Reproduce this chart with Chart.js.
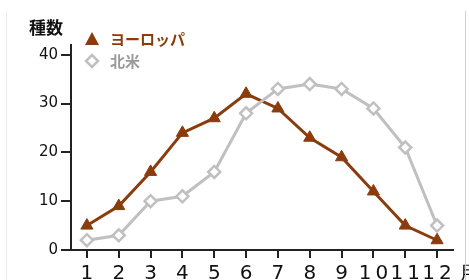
<!DOCTYPE html>
<html>
<head>
<meta charset="utf-8">
<script src="https://cdn.jsdelivr.net/npm/chart.js@4"></script>
<style>
html, body { margin: 0; padding: 0; background: #fff; overflow: hidden; }
#wrap { position: relative; width: 469px; height: 280px; }
#wrap canvas { position: absolute; left: 0; top: 0; }
#frame { position: absolute; left: 6px; top: 11px; width: 458px; height: 269px;
  border-left: 1px solid #ececec; border-right: 1px solid #d2d2d2; pointer-events: none; }
</style>
</head>
<body>
<div id="wrap">
  <canvas id="chart" width="469" height="280"></canvas>
  <div id="frame"></div>
</div>
<script>
// Data
const months = ['1', '2', '3', '4', '5', '6', '7', '8', '9', '10', '11', '12'];
const europe = [5, 9, 16, 24, 27, 32, 29, 23, 19, 12, 5, 2];
const northAmerica = [2, 3, 10, 11, 16, 28, 33, 34, 33, 29, 21, 5];
const yTicks = [0, 10, 20, 30, 40];

const brown = '#8a3c0c';
const grey = '#c0c0c0';
const jpFont = '"Noto Sans CJK JP", sans-serif';
const tickFont = 'DejaVu Sans';

// Month labels in the reference are widely spaced ("1 0", "1 1" ...)
const spacedMonths = {
    id: 'spacedMonths',
    beforeDraw(chart) {
        const sx = chart.scales.x;
        if (sx && !sx._spaced) {
            const orig = sx.drawLabels;
            sx.drawLabels = function(area) {
                this.ctx.save();
                this.ctx.letterSpacing = '4px';
                this.ctx.translate(2, 0);
                orig.call(this, area);
                this.ctx.restore();
            };
            sx._spaced = true;
        }
    }
};

// Title, inline legend and the month unit
const annotations = {
    id: 'annotations',
    afterDraw(chart) {
        const ctx = chart.ctx;
        ctx.save();
        ctx.textBaseline = 'middle';

        ctx.fillStyle = '#111';
        ctx.font = 'bold 17px ' + jpFont;
        ctx.textAlign = 'center';
        ctx.fillText('種数', 46, 28);

        // legend: triangle + ヨーロッパ
        ctx.textAlign = 'left';
        ctx.fillStyle = brown;
        ctx.beginPath();
        ctx.moveTo(92, 32);
        ctx.lineTo(99, 45);
        ctx.lineTo(85, 45);
        ctx.closePath();
        ctx.fill();
        ctx.font = 'bold 15px ' + jpFont;
        ctx.fillText('ヨーロッパ', 110, 39);

        // legend: diamond + 北米
        ctx.strokeStyle = grey;
        ctx.lineWidth = 2.5;
        ctx.fillStyle = '#fff';
        ctx.beginPath();
        ctx.moveTo(92, 55);
        ctx.lineTo(98, 61);
        ctx.lineTo(92, 67);
        ctx.lineTo(86, 61);
        ctx.closePath();
        ctx.fill();
        ctx.stroke();
        ctx.fillStyle = '#9a9a9a';
        ctx.font = 'bold 15px ' + jpFont;
        ctx.fillText('北米', 110, 61);

        // unit after the last month
        ctx.fillStyle = '#111';
        ctx.font = '20px ' + tickFont;
        ctx.fillText('月', 458, 275);
        ctx.restore();
    }
};

const ctx = document.getElementById('chart').getContext('2d');
const chart = new Chart(ctx, {
    type: 'line',
    data: {
        labels: months,
        datasets: [{
            label: 'ヨーロッパ',
            data: europe,
            borderColor: brown,
            backgroundColor: brown,
            borderWidth: 3,
            pointStyle: 'triangle',
            pointRadius: 7,
            pointBorderWidth: 1,
            order: 1
        }, {
            label: '北米',
            data: northAmerica,
            borderColor: grey,
            backgroundColor: '#fff',
            borderWidth: 3,
            pointStyle: 'rectRot',
            pointRadius: 6,
            pointBorderWidth: 2.5,
            order: 0
        }]
    },
    options: {
        responsive: false,
        animation: false,
        layout: { padding: { top: 45, right: 16, left: 0, bottom: 0 } },
        plugins: {
            legend: { display: false },
            tooltip: { enabled: false }
        },
        elements: { line: { tension: 0 } },
        scales: {
            x: {
                offset: true,
                grid: {
                    drawOnChartArea: false,
                    offset: false,
                    tickLength: 8,
                    color: '#222',
                    lineWidth: 2
                },
                border: { color: '#222', width: 2 },
                ticks: {
                    color: '#111',
                    font: { family: tickFont, size: 20 },
                    padding: 4,
                    maxRotation: 0,
                    autoSkip: false
                },
                afterFit(scale) { scale.height = 30; }
            },
            y: {
                min: 0,
                max: 42,
                grid: {
                    drawOnChartArea: false,
                    tickLength: 10,
                    color: '#222',
                    lineWidth: 2
                },
                border: { color: '#222', width: 2 },
                ticks: {
                    color: '#111',
                    font: { family: tickFont, size: 15 },
                    padding: 3
                },
                afterBuildTicks(scale) {
                    scale.ticks = yTicks.map(v => ({ value: v }));
                },
                afterFit(scale) { scale.width = 71; }
            }
        }
    },
    plugins: [spacedMonths, annotations]
});
</script>
</body>
</html>
